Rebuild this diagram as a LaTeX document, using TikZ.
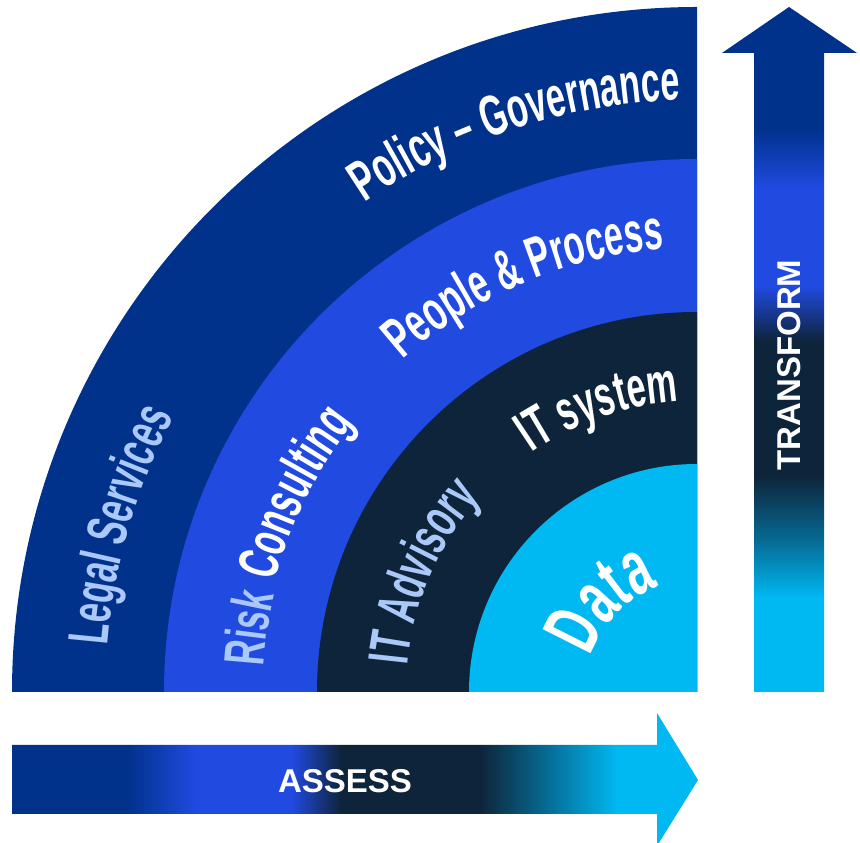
\documentclass[tikz,border=0pt]{standalone}
\usepackage{fontspec}
\setmainfont{Liberation Sans}
\newfontfamily\condfont[FakeStretch=0.6]{Liberation Sans}
\usetikzlibrary{decorations.text}
\definecolor{dkb}{RGB}{0,50,140}
\definecolor{mdb}{RGB}{32,74,224}
\definecolor{nvy}{RGB}{14,36,58}
\definecolor{cyn}{RGB}{0,184,242}
\definecolor{tea}{RGB}{6,105,145}
\definecolor{lbl}{RGB}{170,200,248}
\pgfdeclarehorizontalshading{assessshade}{100bp}{color(0bp)=(dkb); color(33.4bp)=(dkb); color(38.4bp)=(mdb); color(45.4bp)=(mdb); color(49bp)=(nvy); color(59.1bp)=(nvy); color(63.8bp)=(tea); color(69.1bp)=(cyn); color(100bp)=(cyn)}
\pgfdeclareverticalshading{transformshade}{100bp}{color(0bp)=(cyn); color(31.9bp)=(cyn); color(36.2bp)=(tea); color(40.8bp)=(nvy); color(50.6bp)=(nvy); color(54.6bp)=(mdb); color(61.8bp)=(mdb); color(66.1bp)=(dkb); color(100bp)=(dkb)}
\newcommand\lblfmt[2]{\condfont\bfseries\fontsize{#2}{#2}\selectfont\color{#1}}
\tikzset{
  arrowlabel/.style={text=white, font=\bfseries\fontsize{33}{33}\selectfont, inner sep=0pt}
}
\begin{document}
\begin{tikzpicture}[x=1pt,y=1pt]
\useasboundingbox (0,0) rectangle (860,843);
\coordinate (c) at (697,151);
% quarter rings
\fill[dkb] (c) -- ++(180:685) arc[start angle=180,end angle=90,radius=685] -- cycle;
\fill[mdb] (c) -- ++(180:533) arc[start angle=180,end angle=90,radius=533] -- cycle;
\fill[nvy] (c) -- ++(180:380) arc[start angle=180,end angle=90,radius=380] -- cycle;
\fill[cyn] (c) -- ++(180:228) arc[start angle=180,end angle=90,radius=228] -- cycle;
% labels along arcs
\path[decoration={text along path, text align=center, text={|\lblfmt{white}{57}|Policy – Governance}}, decorate]
  (c) ++(147.9:592) arc[start angle=147.9,end angle=67.9,radius=592];
\path[decoration={text along path, text align=center, text={|\lblfmt{lbl}{57}|Legal Services}}, decorate]
  (c) ++(203.85:591) arc[start angle=203.85,end angle=123.85,radius=591];
\path[decoration={text along path, text align=center, text={|\lblfmt{white}{57}|People {\&} Process}}, decorate]
  (c) ++(152.9:444) arc[start angle=152.9,end angle=72.9,radius=444];
\path[decoration={text along path, text align=center, text={|\lblfmt{lbl}{57}|Risk}}, decorate]
  (c) ++(191.85:434) arc[start angle=191.85,end angle=151.85,radius=434];
\path[decoration={text along path, text align=center, text={|\lblfmt{white}{57}|Consulting}}, decorate]
  (c) ++(193.65:436) arc[start angle=193.65,end angle=113.65,radius=436];
\path[decoration={text along path, text align=center, text={|\lblfmt{lbl}{57}|IT Advisory}}, decorate]
  (c) ++(206.35:291) arc[start angle=206.35,end angle=106.35,radius=291];
\path[decoration={text along path, text align=center, text={|\lblfmt{white}{57}|IT system}}, decorate]
  (c) ++(159.1:291) arc[start angle=159.1,end angle=59.1,radius=291];
\path[decoration={text along path, text align=center, text={|\lblfmt{white}{78}|Data}}, decorate]
  (c) ++(196:112) arc[start angle=196,end angle=76,radius=112];
% arrows
\shade[shading=assessshade] (12,98) -- (657,98) -- (657,130) -- (698,63) -- (657,-3) -- (657,29) -- (12,29) -- cycle;
\shade[shading=transformshade] (754,151) -- (754,790) -- (722,790) -- (789,836) -- (857,790) -- (824,790) -- (824,151) -- cycle;
\node[arrowlabel] (assess) at (345,62) {ASSESS};
\node[arrowlabel, rotate=90] (transform) at (789.5,478) {TRANSFORM};
\end{tikzpicture}
\end{document}
